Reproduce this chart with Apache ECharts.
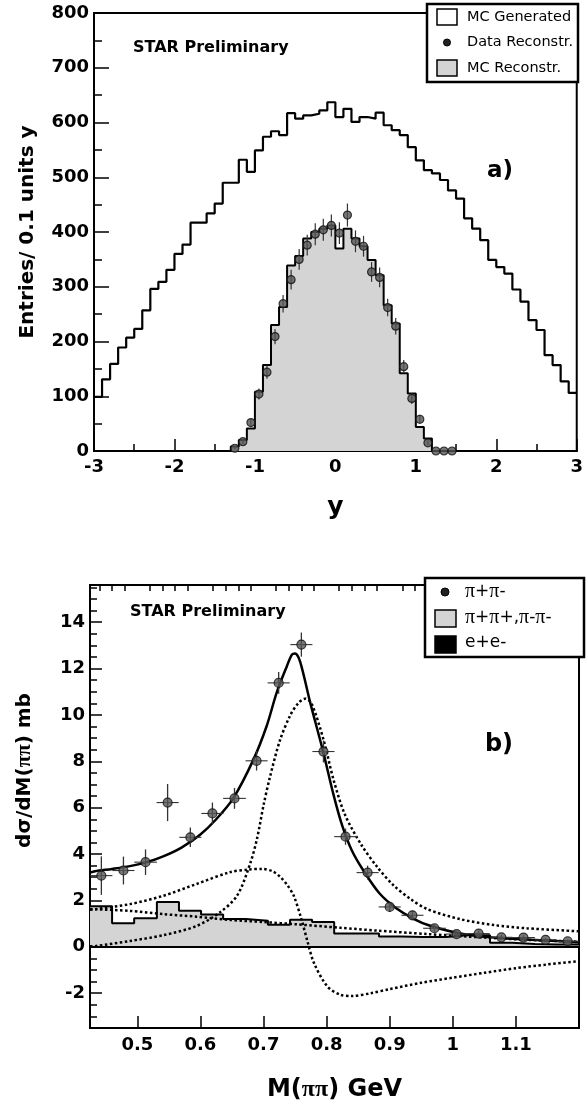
<!DOCTYPE html>
<html><head><meta charset="utf-8">
<script src="https://cdn.jsdelivr.net/npm/echarts@6/dist/echarts.min.js"></script>
<style>html,body{margin:0;padding:0;background:#fff}#c{width:586px;height:1114px}</style>
</head><body><div id="c"></div><script>
// ===== Panel a) rapidity distribution =====
const yBinEdges = [-3.0,-2.9,-2.8,-2.7,-2.6,-2.5,-2.4,-2.3,-2.2,-2.1,-2.0,-1.9,-1.8,-1.7,-1.6,-1.5,-1.4,-1.3,-1.2,-1.1,-1.0,-0.9,-0.8,-0.7,-0.6,-0.5,-0.4,-0.3,-0.2,-0.1,0.0,0.1,0.2,0.3,0.4,0.5,0.6,0.7,0.8,0.9,1.0,1.1,1.2,1.3,1.4,1.5,1.6,1.7,1.8,1.9,2.0,2.1,2.2,2.3,2.4,2.5,2.6,2.7,2.8,2.9,3.0];
const mcGenerated = [99,131,159,189,207,223,257,296,309,331,360,377,417,417,434,452,490,490,532,510,549,574,584,577,617,607,613,616,622,637,610,625,601,610,607,618,595,586,577,555,531,513,507,495,476,461,425,406,385,349,336,324,295,273,239,221,175,157,127,106];
const mcReconstr = [0,0,0,0,0,0,0,0,0,0,0,0,0,0,0,0,0,8,20,41,108,157,230,263,339,356,388,400,406,412,370,406,388,374,349,321,266,233,142,105,44,23,0,0,0,0,0,0,0,0,0,0,0,0,0,0,0,0,0,0];
const dataRapidity = [-1.25,-1.15,-1.05,-0.95,-0.85,-0.75,-0.65,-0.55,-0.45,-0.35,-0.25,-0.15,-0.05,0.05,0.15,0.25,0.35,0.45,0.55,0.65,0.75,0.85,0.95,1.05,1.15,1.25,1.35,1.45];
const dataEntries = [5,17,52,104,144,209,269,313,350,376,396,404,412,398,431,383,374,327,317,262,228,154,96,58,15,0,0,0];
const dataEntriesErr = [2,4,7,10,12,14,16,18,19,19,20,20,20,20,21,20,19,18,18,16,15,12,10,8,4,0,0,0];

// ===== Panel b) invariant mass =====
const mBinEdges = [0.425,0.460,0.495,0.531,0.566,0.601,0.636,0.672,0.707,0.742,0.777,0.812,0.848,0.883,0.918,0.953,0.989,1.024,1.059,1.094,1.130,1.165,1.200];
const mBinCenters = [0.443,0.478,0.513,0.548,0.584,0.619,0.654,0.689,0.724,0.760,0.795,0.830,0.865,0.900,0.936,0.971,1.006,1.041,1.077,1.112,1.147,1.182];
const pipiXsec = [3.07,3.29,3.65,6.22,4.72,5.75,6.40,8.02,11.38,13.03,8.42,4.75,3.20,1.72,1.36,0.80,0.55,0.57,0.41,0.40,0.30,0.24];
const pipiErr = [0.83,0.60,0.55,0.80,0.42,0.47,0.45,0.42,0.47,0.52,0.47,0.35,0.30,0.22,0.20,0.15,0.12,0.12,0.10,0.10,0.08,0.08];
const likeSignXsec = [1.75,1.02,1.23,1.93,1.56,1.39,1.20,1.12,0.95,1.17,1.07,0.57,0.57,0.45,0.42,0.42,0.50,0.50,0.18,0.12,0.10,0.10];
const eeXsec = [0,0,0,0,0,0,0,0,0,0,0,0,0,0,0,0,0,0,0,0,0,0];

const fitM   = [0.425,0.433,0.460,0.488,0.515,0.541,0.570,0.599,0.625,0.652,0.684,0.705,0.721,0.737,0.745,0.750,0.758,0.774,0.794,0.811,0.825,0.840,0.858,0.884,0.911,0.937,0.963,1.016,1.069,1.122,1.200];
const fitVal = [3.20,3.26,3.36,3.48,3.65,3.90,4.28,4.82,5.50,6.40,8.07,9.52,10.97,12.10,12.60,12.65,12.30,10.53,8.47,6.55,5.20,4.15,3.30,2.30,1.65,1.22,0.92,0.55,0.39,0.31,0.20];

const bwM   = [0.425,0.433,0.488,0.541,0.594,0.631,0.658,0.679,0.690,0.700,0.710,0.726,0.742,0.755,0.766,0.776,0.795,0.811,0.829,0.855,0.880,0.906,0.933,0.960,1.012,1.065,1.117,1.200];
const bwVal = [0.02,0.03,0.25,0.50,0.90,1.49,2.20,3.60,4.70,6.10,7.30,8.90,9.96,10.50,10.70,10.50,8.94,7.20,5.70,4.40,3.45,2.65,2.06,1.62,1.19,0.94,0.80,0.67];

const interfM   = [0.425,0.433,0.488,0.541,0.594,0.647,0.675,0.698,0.715,0.727,0.738,0.748,0.760,0.770,0.780,0.801,0.822,0.840,0.870,0.900,0.950,1.000,1.050,1.100,1.150,1.200];
const interfVal = [1.60,1.62,1.84,2.20,2.71,3.22,3.33,3.36,3.25,3.00,2.65,2.20,1.20,0.20,-0.70,-1.70,-2.07,-2.12,-2.00,-1.82,-1.55,-1.33,-1.12,-0.92,-0.76,-0.62];

const bkgM   = [0.425,0.433,0.488,0.541,0.594,0.647,0.700,0.753,0.822,0.880,0.960,1.050,1.120,1.200];
const bkgVal = [1.63,1.62,1.55,1.41,1.30,1.16,1.07,0.97,0.82,0.70,0.55,0.40,0.30,0.22];

const mMajorTicks = [0.5,0.6,0.7,0.8,0.9,1.0,1.1];
const mMinorTicks = [0.44,0.46,0.48,0.52,0.54,0.56,0.58,0.62,0.64,0.66,0.68,0.72,0.74,0.76,0.78,0.82,0.84,0.86,0.88,0.92,0.94,0.96,0.98,1.02,1.04,1.06,1.08,1.12,1.14,1.16,1.18];
const xsecMajorTicks = [-2,0,2,4,6,8,10,12,14];

// ---------- helpers ----------
function stepData(edges, vals){
  const d = vals.map((v,i)=>[edges[i], v]);
  d.push([edges[edges.length-1], vals[vals.length-1]]);
  return d;
}
function zip(a,b){ return a.map((v,i)=>[v,b[i]]); }

const BOLD = {fontFamily:'DejaVu Sans', fontWeight:'bold', color:'#000'};
const AXLINE = {show:true, onZero:false, lineStyle:{color:'#000', width:2}};
const PI = {fontFamily:'Liberation Serif', fontWeight:'bold', fontSize:24, color:'#000'};

const chart = echarts.init(document.getElementById('c'), null, {renderer:'canvas', width:586, height:1114});

const option = {
  animation:false,
  backgroundColor:'#fff',
  grid:[
    {left:94, top:13, width:485, height:438, show:true, borderColor:'#000', borderWidth:2, backgroundColor:'transparent'},
    {left:90, top:585, width:489, height:443, show:true, borderColor:'#000', borderWidth:2, backgroundColor:'transparent'}
  ],
  xAxis:[
    {gridIndex:0, type:'value', min:-3, max:3, interval:1,
     axisLine:AXLINE, splitLine:{show:false},
     axisTick:{show:true, inside:true, length:12, lineStyle:{color:'#000', width:1.5}},
     minorTick:{show:true, splitNumber:2, length:7, lineStyle:{color:'#000', width:1.5}},
     axisLabel:Object.assign({fontSize:18, margin:7}, BOLD),
     name:'y', nameLocation:'middle', nameGap:44, nameTextStyle:Object.assign({fontSize:25}, BOLD)},
    {gridIndex:1, type:'value', min:0.425, max:1.2,
     axisLine:AXLINE, splitLine:{show:false},
     axisTick:{show:true, inside:true, length:12, customValues:mMajorTicks, lineStyle:{color:'#000', width:1.5}},
     axisLabel:Object.assign({fontSize:18, margin:8, customValues:mMajorTicks, formatter:v=>String(Math.round(v*10)/10)}, BOLD),
     name:'{t|M(}{p|ππ}{t|) GeV}', nameLocation:'middle', nameGap:50,
     nameTextStyle:{rich:{t:Object.assign({fontSize:24}, BOLD), p:PI}}},
    {gridIndex:1, type:'value', min:0.425, max:1.2,
     axisLine:{show:false, onZero:false}, splitLine:{show:false},
     axisTick:{show:true, inside:true, length:6, customValues:mMinorTicks, lineStyle:{color:'#000', width:1.5}},
     axisLabel:{show:false}}
  ],
  yAxis:[
    {gridIndex:0, type:'value', min:0, max:800, interval:100, position:'left',
     axisLine:AXLINE, splitLine:{show:false},
     axisTick:{show:true, inside:true, length:15, lineStyle:{color:'#000', width:1.5}},
     minorTick:{show:true, splitNumber:2, length:8, lineStyle:{color:'#000', width:1.5}},
     axisLabel:Object.assign({fontSize:18, margin:5}, BOLD),
     name:'Entries/ 0.1 units y', nameLocation:'middle', nameRotate:90, nameGap:56,
     nameTextStyle:Object.assign({fontSize:20}, BOLD)},
    {gridIndex:1, type:'value', min:-3.5, max:15.6, position:'left',
     axisLine:AXLINE, splitLine:{show:false},
     axisTick:{show:true, inside:true, length:12, customValues:xsecMajorTicks, lineStyle:{color:'#000', width:1.5}},
     axisLabel:Object.assign({fontSize:18, margin:5, customValues:xsecMajorTicks}, BOLD),
     name:'{t|dσ/dM(}{p|ππ}{t|) mb}', nameLocation:'middle', nameRotate:90, nameGap:55,
     nameTextStyle:{padding:[0,0,0,72], rich:{t:Object.assign({fontSize:20}, BOLD), p:Object.assign({}, PI, {fontSize:21})}}},
    {gridIndex:1, type:'value', min:-3.5, max:15.6, interval:0.5, position:'left',
     axisLine:{show:false, onZero:false}, splitLine:{show:false},
     axisTick:{show:true, inside:true, length:7, lineStyle:{color:'#000', width:1.5}},
     axisLabel:{show:false}}
  ],
  series:[
    // ---- panel a ----
    {name:'MC Reconstr.', type:'line', xAxisIndex:0, yAxisIndex:0, step:'end', showSymbol:false, z:1,
     data:stepData(yBinEdges, mcReconstr), lineStyle:{color:'#000', width:2},
     areaStyle:{color:'#d4d4d4', opacity:1}},
    {name:'MC Generated', type:'line', xAxisIndex:0, yAxisIndex:0, step:'end', showSymbol:false, z:2,
     data:stepData(yBinEdges, mcGenerated), lineStyle:{color:'#000', width:2.2}},
    {name:'Data Reconstr. err', type:'custom', xAxisIndex:0, yAxisIndex:0, z:3,
     data:dataRapidity.map((x,i)=>[x, dataEntries[i], dataEntriesErr[i]]),
     encode:{x:0, y:1},
     renderItem:(params, api)=>{
       const x=api.value(0), y=api.value(1), e=api.value(2);
       const p1=api.coord([x,y-e]), p2=api.coord([x,y+e]);
       return {type:'line', shape:{x1:p1[0],y1:p1[1],x2:p2[0],y2:p2[1]}, style:{stroke:'#333', lineWidth:1.2}};
     }},
    {name:'Data Reconstr.', type:'scatter', xAxisIndex:0, yAxisIndex:0, z:4,
     data:zip(dataRapidity, dataEntries), symbol:'circle', symbolSize:8,
     itemStyle:{color:'#555', borderColor:'#111', borderWidth:1.2}},
    // ---- panel b ----
    {name:'π+π+,π-π-', type:'line', xAxisIndex:1, yAxisIndex:1, step:'end', showSymbol:false, z:1,
     data:stepData(mBinEdges, likeSignXsec), lineStyle:{color:'#000', width:2},
     areaStyle:{color:'#d4d4d4', opacity:1},
     markLine:{silent:true, symbol:'none', label:{show:false}, lineStyle:{color:'#000', width:2, type:'solid'},
               data:[{yAxis:0}]}},
    {name:'e+e-', type:'line', xAxisIndex:1, yAxisIndex:1, step:'end', showSymbol:false, z:1,
     data:stepData(mBinEdges, eeXsec), lineStyle:{color:'#000', width:1}, areaStyle:{color:'#000', opacity:1}},
    {name:'background', type:'line', xAxisIndex:1, yAxisIndex:1, showSymbol:false, smooth:0.3, z:3,
     data:zip(bkgM, bkgVal), lineStyle:{color:'#000', width:2.5, type:[2.5,2.5]}},
    {name:'Breit-Wigner', type:'line', xAxisIndex:1, yAxisIndex:1, showSymbol:false, smooth:0.3, z:3,
     data:zip(bwM, bwVal), lineStyle:{color:'#000', width:2.5, type:[2.5,2.5]}},
    {name:'interference', type:'line', xAxisIndex:1, yAxisIndex:1, showSymbol:false, smooth:0.3, z:3,
     data:zip(interfM, interfVal), lineStyle:{color:'#000', width:2.5, type:[2.5,2.5]}},
    {name:'fit', type:'line', xAxisIndex:1, yAxisIndex:1, showSymbol:false, smooth:0.3, z:4,
     data:zip(fitM, fitVal), lineStyle:{color:'#000', width:2.5}},
    {name:'π+π- err', type:'custom', xAxisIndex:1, yAxisIndex:1, z:5,
     data:mBinCenters.map((x,i)=>[x, pipiXsec[i], (mBinEdges[i+1]-mBinEdges[i])/2, pipiErr[i]]),
     encode:{x:0, y:1},
     renderItem:(params, api)=>{
       const x=api.value(0), y=api.value(1), ex=api.value(2), ey=api.value(3);
       const a=api.coord([x-ex,y]), b=api.coord([x+ex,y]), c=api.coord([x,y-ey]), d=api.coord([x,y+ey]);
       return {type:'group', children:[
         {type:'line', shape:{x1:a[0],y1:a[1],x2:b[0],y2:b[1]}, style:{stroke:'#333', lineWidth:1.1}},
         {type:'line', shape:{x1:c[0],y1:c[1],x2:d[0],y2:d[1]}, style:{stroke:'#333', lineWidth:1.3}}
       ]};
     }},
    {name:'π+π-', type:'scatter', xAxisIndex:1, yAxisIndex:1, z:6,
     data:zip(mBinCenters, pipiXsec), symbol:'circle', symbolSize:9,
     itemStyle:{color:'#555', borderColor:'#111', borderWidth:1.2}}
  ],
  graphic:[
    {type:'text', x:133, y:48, z:50, style:{text:'STAR Preliminary', fontFamily:'DejaVu Sans', fontWeight:'bold', fontSize:16, fill:'#000', verticalAlign:'middle'}},
    {type:'text', x:500, y:171, z:50, style:{text:'a)', fontFamily:'DejaVu Sans', fontWeight:'bold', fontSize:23, fill:'#000', align:'center', verticalAlign:'middle'}},
    {type:'text', x:130, y:612, z:50, style:{text:'STAR Preliminary', fontFamily:'DejaVu Sans', fontWeight:'bold', fontSize:16, fill:'#000', verticalAlign:'middle'}},
    {type:'text', x:499, y:745, z:50, style:{text:'b)', fontFamily:'DejaVu Sans', fontWeight:'bold', fontSize:24, fill:'#000', align:'center', verticalAlign:'middle'}},
    // legend a
    {type:'rect', z:60, shape:{x:427, y:4, width:151, height:78}, style:{fill:'#fff', stroke:'#000', lineWidth:2.5}},
    {type:'rect', z:61, shape:{x:437, y:9, width:20, height:16}, style:{fill:'#fff', stroke:'#000', lineWidth:1.5}},
    {type:'text', z:61, x:467, y:17, style:{text:'MC Generated', fontFamily:'DejaVu Sans', fontSize:14.5, fill:'#000', verticalAlign:'middle'}},
    {type:'circle', z:61, shape:{cx:447, cy:42.5, r:3.5}, style:{fill:'#222', stroke:'#000', lineWidth:1}},
    {type:'text', z:61, x:467, y:42.5, style:{text:'Data Reconstr.', fontFamily:'DejaVu Sans', fontSize:14.5, fill:'#000', verticalAlign:'middle'}},
    {type:'rect', z:61, shape:{x:437, y:60, width:20, height:16}, style:{fill:'#d4d4d4', stroke:'#000', lineWidth:1.5}},
    {type:'text', z:61, x:467, y:68, style:{text:'MC Reconstr.', fontFamily:'DejaVu Sans', fontSize:14.5, fill:'#000', verticalAlign:'middle'}},
    // legend b
    {type:'rect', z:60, shape:{x:425, y:578, width:159, height:79}, style:{fill:'#fff', stroke:'#000', lineWidth:2.5}},
    {type:'circle', z:61, shape:{cx:445, cy:592, r:4}, style:{fill:'#222', stroke:'#000', lineWidth:1}},
    {type:'text', z:61, x:465, y:592, style:{text:'{p|π}+{p|π}-', rich:{p:{fontFamily:'Liberation Serif', fontSize:20, fill:'#000'}}, fontFamily:'DejaVu Sans', fontSize:17, fill:'#000', verticalAlign:'middle'}},
    {type:'rect', z:61, shape:{x:435, y:610, width:21, height:17}, style:{fill:'#d4d4d4', stroke:'#000', lineWidth:1.5}},
    {type:'text', z:61, x:465, y:618, style:{text:'{p|π}+{p|π}+,{p|π}-{p|π}-', rich:{p:{fontFamily:'Liberation Serif', fontSize:20, fill:'#000'}}, fontFamily:'DejaVu Sans', fontSize:17, fill:'#000', verticalAlign:'middle'}},
    {type:'rect', z:61, shape:{x:435, y:636, width:21, height:17}, style:{fill:'#000', stroke:'#000', lineWidth:1.5}},
    {type:'text', z:61, x:465, y:643, style:{text:'e+e-', fontFamily:'DejaVu Sans', fontSize:17, fill:'#000', verticalAlign:'middle'}}
  ]
};
chart.setOption(option);
</script></body></html>
